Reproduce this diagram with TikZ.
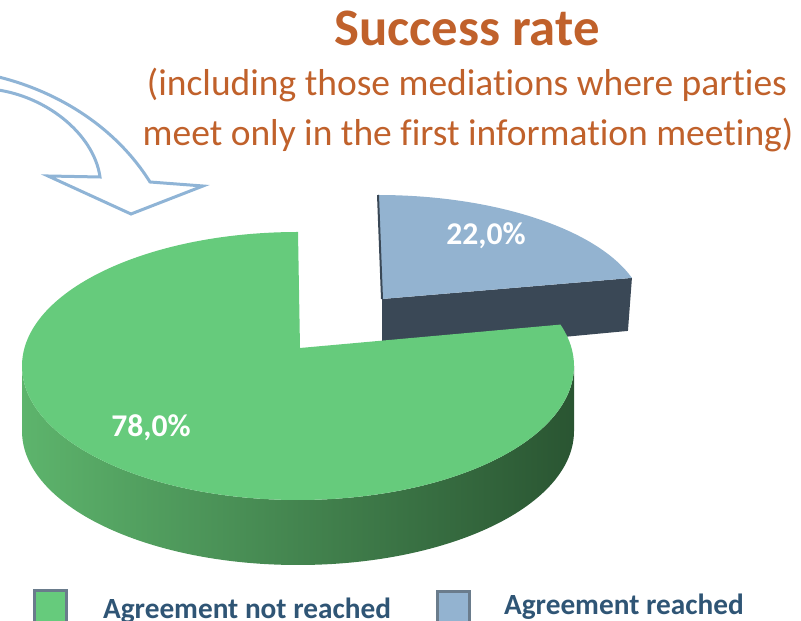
\documentclass[tikz,border=0pt]{standalone}
\usepackage{fontspec}
\setmainfont{Carlito}[RawFeature={-liga}]
\usetikzlibrary{positioning,calc}
\definecolor{pieGreen}{HTML}{66CB7C}
\definecolor{sideLight}{HTML}{5DB46C}
\definecolor{sideMid}{HTML}{468A50}
\definecolor{sideDark}{HTML}{2A5532}
\definecolor{pieBlue}{HTML}{93B3D0}
\definecolor{blueSide}{HTML}{3A4856}
\definecolor{arrowBlue}{HTML}{8FB4D6}
\definecolor{titleOrange}{HTML}{C0612B}
\definecolor{legendBlue}{HTML}{2F5575}
\definecolor{boxBorder}{HTML}{6A7C8C}

\begin{document}
\begin{tikzpicture}[x=0.3mm,y=0.3mm,
		title node/.style={text=titleOrange,font=\bfseries\fontsize{45}{54}\selectfont,inner sep=0pt,anchor=base},
		sub node/.style={text=titleOrange,font=\fontsize{32}{38}\selectfont,inner sep=0pt,anchor=base},
		value node/.style={text=white,font=\bfseries\fontsize{27}{32}\selectfont,inner sep=0pt,anchor=base},
		legend box/.style={draw=boxBorder,line width=0.9mm,minimum size=9.6mm,inner sep=0pt,anchor=north west},
		legend text/.style={text=legendBlue,font=\bfseries\fontsize{25}{30}\selectfont,inner sep=0pt},
		arrow line/.style={draw=arrowBlue,fill=white,line width=0.9mm,line join=miter}]
		
		\useasboundingbox (0,0) rectangle (801,621);
		\clip (0,0) rectangle (801,621);
		
		\node[title node] (title) at (467,575) {Success rate};
		\node[sub node] (sub1) at (467,525) {(including those mediations where parties};
		\node[sub node] (sub2) at ($(sub1.base)+(1,-50)$) {meet only in the first information meeting)};
		
		\coordinate (ao) at (-10,546);
		\coordinate (ai) at (-10,532);
		\coordinate (ae) at (150,439);
		\coordinate (ie) at (100,444);
		\coordinate (tip) at (131,407);
		\path[arrow line] (ao) .. controls (55,532) and (115,495) .. (ae) -- (203,435) -- (tip)
			-- (48,445) -- (ie) .. controls (94,487) and (45,527) .. (ai) -- cycle;
		
		\coordinate (bc) at (378,306);
		\coordinate (bv) at (382,322);
		\path (bc) +(90:267 and 120) coordinate (b90) +(18:267 and 120) coordinate (b18);
		\fill[blueSide] (bv) -- (b18) -- ++(-4,-53) -- ($(bv)+(0,-55)$) -- cycle;
		\fill[pieBlue] (bv) -- (b90) arc[start angle=90,end angle=18,x radius=267,y radius=120] -- cycle;
		\draw[blueSide,line width=0.6mm] (b90) -- (bv);
		
		\coordinate (gc) at (298,255);
		\coordinate (gv) at (300,273);
		\path (gc) +(90:276 and 134) coordinate (g90) +(180:276 and 134) coordinate (g180);
		\path[left color=sideLight,middle color=sideMid,right color=sideDark] (g180)
			arc[start angle=180,end angle=360,x radius=276,y radius=134] -- ++(0,-65)
			arc[start angle=0,end angle=-180,x radius=276,y radius=134] -- cycle;
		\fill[pieGreen] (gv) -- (g90) arc[start angle=90,end angle=378,x radius=276,y radius=134] -- cycle;
		
		\node[value node] (v22) at (486,376) {22,0\%};
		\node[value node] (v78) at (151,184) {78,0\%};
		
		\node[legend box,fill=pieGreen] (gkey) at (32.5,31.5) {};
		\node[legend box,fill=pieBlue] (bkey) at (435.5,30.5) {};
		\node[legend text,right=10.6mm of gkey,anchor=base west,yshift=-3.6mm] (gtext) {Agreement not reached};
		\node[legend text,right=10mm of bkey,anchor=base west,yshift=-1.95mm] (btext) {Agreement reached};
		\end{tikzpicture}
\end{document}
